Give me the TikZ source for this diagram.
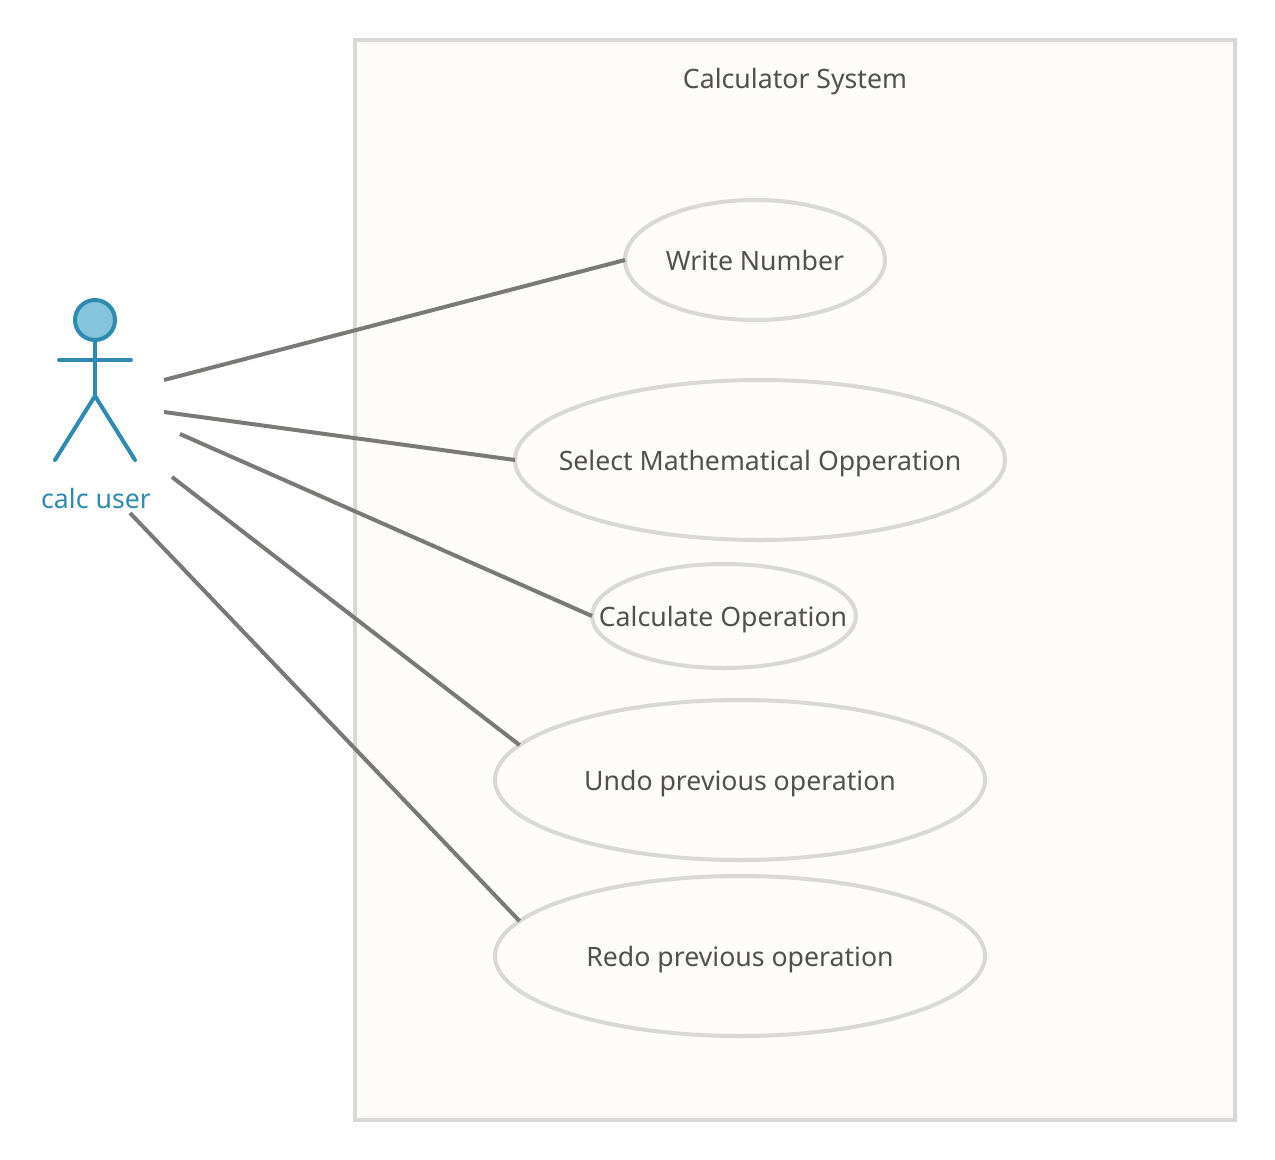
\documentclass[tikz,border=0pt]{standalone}
\usepackage{fontspec}
\setmainfont{Noto Sans}
\usetikzlibrary{shapes.geometric}
\definecolor{frameline}{HTML}{D9D8D6}
\definecolor{framefill}{HTML}{FDFCFA}
\definecolor{linkline}{HTML}{7B7977}
\definecolor{labeltext}{HTML}{51504E}
\definecolor{actorline}{HTML}{2E8BB0}
\definecolor{actorfill}{HTML}{86C4DC}
\tikzset{x=0.75pt, y=-0.75pt,
  usecase/.style={ellipse, draw=frameline, line width=3pt, fill=framefill, inner sep=0pt, outer sep=0pt},
  casetext/.style={text=labeltext, font=\fontsize{20}{24}\selectfont},
  link/.style={draw=linkline, line width=3pt},
  actorpart/.style={draw=actorline, line width=3pt, line cap=round}}
\begin{document}
\begin{tikzpicture}
      \useasboundingbox (0, 0) rectangle (1275, 1160);

      % system frame
       \node[draw=frameline, line width=3pt, fill=framefill, minimum width=880*0.75pt, minimum height=1080*0.75pt, inner sep=0pt] (frame) at (795, 580) {};
       \node[casetext] (title) at (795, 82) {Calculator System};

      % use cases
       \node[usecase, minimum width=260*0.75pt, minimum height=120*0.75pt] (write) at (755, 260) {};
       \node[usecase, minimum width=490*0.75pt, minimum height=160*0.75pt] (select) at (760, 460) {};
       \node[usecase, minimum width=264*0.75pt, minimum height=104*0.75pt] (calc) at (724, 616) {};
       \node[usecase, minimum width=490*0.75pt, minimum height=160*0.75pt] (undo) at (740, 780) {};
       \node[usecase, minimum width=490*0.75pt, minimum height=160*0.75pt] (redo) at (740, 956) {};

       \node[casetext] (writetext) at (755, 260) {Write Number};
       \node[casetext] (selecttext) at (760, 464) {Select Mathematical Opperation};
       \node[casetext] (calctext) at (723, 620) {Calculate Operation};
       \node[casetext] (undotext) at (740, 784) {Undo previous operation};
       \node[casetext] (redotext) at (740, 960) {Redo previous operation};

      % actor
       \node[circle, draw=actorline, line width=3pt, fill=actorfill, minimum size=40*0.75pt, inner sep=0pt] (head) at (95, 320) {};
       \coordinate (hip) at (95, 396);
       \coordinate (armL) at (59, 360);
       \coordinate (armR) at (131, 360);
       \coordinate (footL) at (55, 460);
       \coordinate (footR) at (135, 460);
       \draw[actorpart] (head) -- (hip);
       \draw[actorpart] (armL) -- (armR);
       \draw[actorpart] (footL) -- (hip) -- (footR);
       \node[casetext, text=actorline] (user) at (96, 498) {calc user};

      % links
       \coordinate (u1) at (164, 380);
       \coordinate (u2) at (164, 412);
       \coordinate (u3) at (180, 434);
       \coordinate (u4) at (172, 477);
       \coordinate (u5) at (130, 513);
       \draw[link] (u1) -- (write.west);
       \draw[link] (u2) -- (select.west);
       \draw[link] (u3) -- (calc.west);
       \draw[link] (u4) -- (undo.171);
       \draw[link] (u5) -- (redo.171);
    \end{tikzpicture}
\end{document}
